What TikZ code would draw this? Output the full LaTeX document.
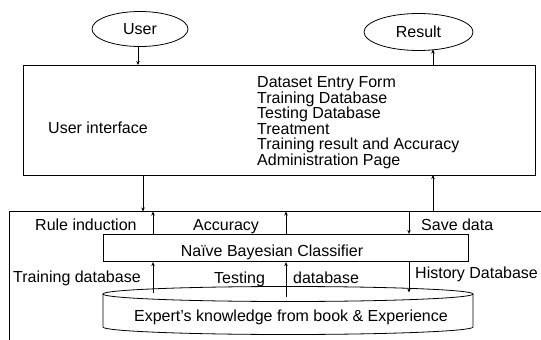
\documentclass[tikz,border=0pt]{standalone}
\usepackage{fontspec}
\setmainfont{Liberation Sans}
\usetikzlibrary{shapes.geometric,arrows.meta}
\begin{document}
\begin{tikzpicture}[x=1pt,y=-1pt,
  every node/.style={font=\fontsize{16}{19}\selectfont},
  box/.style={draw,line width=0.8pt,inner sep=0},
  lbl/.style={inner sep=0,anchor=base west},
  arr/.style={line width=0.8pt,-{Stealth[length=4pt,width=3.5pt]}},
  ln/.style={line width=0.8pt}]
\useasboundingbox (0,0) rectangle (541,340);
% top ellipses
\node[box,ellipse,minimum width=96pt,minimum height=35pt] (user) at (140,29) {User};
\node[box,ellipse,minimum width=109pt,minimum height=37pt] (result) at (418.5,32) {Result};
% user interface box
\node[box,minimum width=511.5pt,minimum height=110pt] (ui) at (279.25,120) {};
\node[lbl] (uitxt) at (48,133.5) {User interface};
\foreach \t [count=\i] in {Dataset Entry Form,Training Database,Testing Database,Treatment,Training result and Accuracy,Administration Page}
  \node[lbl] (l\i) at (257,{87.5+15.6*(\i-1)}) {\t};
% connector coordinates
\coordinate (ua) at (138,46.5);
\coordinate (ub) at (138,65);
\coordinate (ra) at (433,65);
\coordinate (rb) at (433,49.5);
\draw[arr] (ua) -- (ub);
\draw[arr] (ra) -- (rb);
% lower open box
\coordinate (lbr) at (541,211.5);
\coordinate (lb) at (9,211.5);
\coordinate (lbb) at (9,340);
\draw[ln] (lbr) -- (lb) -- (lbb);
\coordinate (d1a) at (143,175);
\coordinate (d1b) at (143,211.5);
\coordinate (u1a) at (433,211.5);
\coordinate (u1b) at (433,175);
\draw[arr] (d1a) -- (d1b);
\draw[arr] (u1a) -- (u1b);
% classifier
\node[box,minimum width=365pt,minimum height=27.5pt] (nbc) at (285.5,248) {};
\node[inner sep=0,anchor=base] (nbctxt) at (272,256) {Naïve Bayesian Classifier};
% cylinder
\coordinate (cyl) at (288,294);
\draw[ln] (103,294) -- (103,327) arc[start angle=180,end angle=360,x radius=185pt,y radius=7.5pt] -- (473,294);
\draw[ln] (cyl) ellipse [x radius=185pt,y radius=7.5pt];
\node[inner sep=0,anchor=base] (cyltxt) at (291,321) {Expert’s knowledge from book \& Experience};
% arrows above classifier
\coordinate (a1t) at (153,211.5);
\coordinate (a2t) at (286,211.5);
\coordinate (a3t) at (409,211.5);
\draw[arr] (nbc.north -| a1t) -- (a1t);
\draw[arr] (nbc.north -| a2t) -- (a2t);
\draw[arr] (a3t) -- (nbc.north -| a3t);
% arrows below classifier
\coordinate (b1) at (153,293);
\coordinate (b2) at (286,297);
\coordinate (b3) at (409,292.5);
\draw[arr] (b1) -- (nbc.south -| b1);
\draw[arr] (b2) -- (nbc.south -| b2);
\draw[arr] (nbc.south -| b3) -- (b3);
% labels
\node[lbl] (ri) at (35,230.7) {Rule induction};
\node[lbl] (acc) at (193,230.5) {Accuracy};
\node[lbl] (sd) at (421,230.7) {Save data};
\node[lbl] (td) at (13,282) {Training database};
\node[lbl] (te) at (214,283.3) {Testing};
\node[lbl] (tdb) at (293,283.3) {database};
\node[lbl] (hd) at (415,278.3) {History Database};
\end{tikzpicture}
\end{document}
